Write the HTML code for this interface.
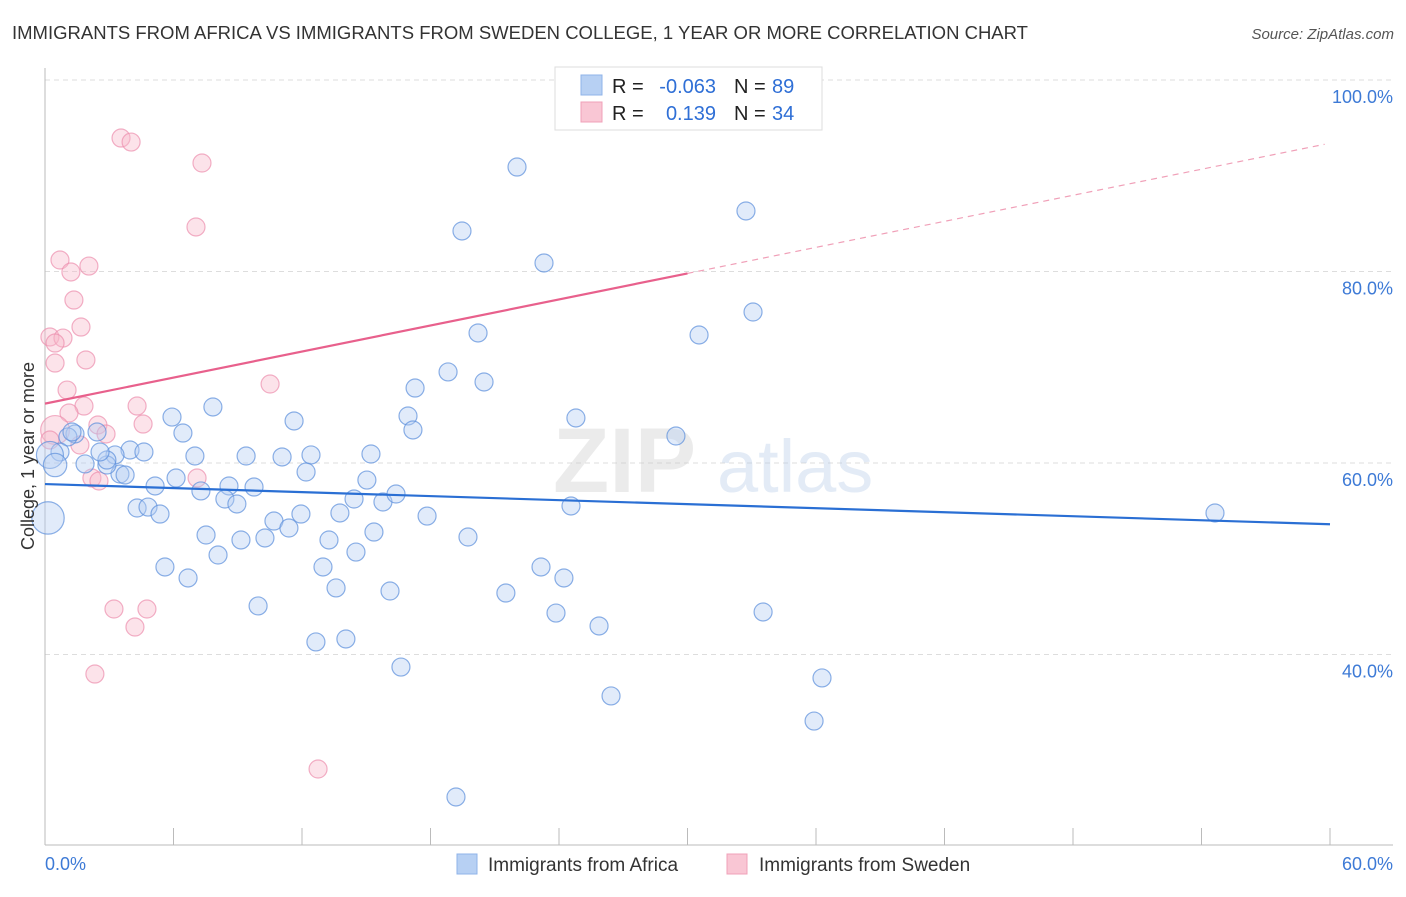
<!DOCTYPE html>
<html><head><meta charset="utf-8"><style>
body{margin:0;background:#fff;font-family:"Liberation Sans",sans-serif}
svg text{font-family:"Liberation Sans",sans-serif}
</style></head><body>
<svg width="1406" height="892" viewBox="0 0 1406 892" xmlns="http://www.w3.org/2000/svg">
<text x="12" y="39" font-size="18" fill="#333" textLength="1016" lengthAdjust="spacingAndGlyphs">IMMIGRANTS FROM AFRICA VS IMMIGRANTS FROM SWEDEN COLLEGE, 1 YEAR OR MORE CORRELATION CHART</text>
<text x="1394" y="39" font-size="15" fill="#555" text-anchor="end" font-style="italic">Source: ZipAtlas.com</text>
<g id="grid"></g>
<g opacity="0.35">
<text x="553" y="492" font-size="92" fill="#c8c8c8" font-family="Liberation Serif" font-weight="bold">ZIP</text>
<text x="717" y="492" font-size="74" fill="#b0c8e8">atlas</text>
</g>
<g id="marks"></g>
<g>
<rect x="555" y="67" width="267" height="63" fill="#fff" stroke="#ddd"/>
<rect x="581" y="75" width="21" height="20" fill="#b7d0f3" stroke="#8fb3e8"/>
<rect x="581" y="102" width="21" height="20" fill="#f9c6d4" stroke="#f0a0b8"/>
<text x="612" y="93" font-size="20" fill="#222">R =</text>
<text x="716" y="93" font-size="20" fill="#2f6fd6" text-anchor="end">-0.063</text>
<text x="734" y="93" font-size="20" fill="#222">N =</text>
<text x="772" y="93" font-size="20" fill="#2f6fd6">89</text>
<text x="612" y="120" font-size="20" fill="#222">R =</text>
<text x="716" y="120" font-size="20" fill="#2f6fd6" text-anchor="end">0.139</text>
<text x="734" y="120" font-size="20" fill="#222">N =</text>
<text x="772" y="120" font-size="20" fill="#2f6fd6">34</text>
</g>
<text transform="translate(34,456) rotate(-90)" font-size="18" fill="#333" text-anchor="middle">College, 1 year or more</text>
<text x="45" y="870" font-size="18" fill="#3d7ad6">0.0%</text>
<text x="1393" y="870" font-size="18" fill="#3d7ad6" text-anchor="end">60.0%</text>
<g>
<rect x="457" y="854" width="20" height="20" fill="#b7d0f3" stroke="#8fb3e8"/>
<text x="488" y="871" font-size="19" fill="#333">Immigrants from Africa</text>
<rect x="727" y="854" width="20" height="20" fill="#f9c6d4" stroke="#f0a0b8"/>
<text x="759" y="871" font-size="19" fill="#333">Immigrants from Sweden</text>
</g>
</svg>
<script>
const yTicks=[40,60,80,100];
const yTickLabels=["40.0%","60.0%","80.0%","100.0%"];
const xTicks=[0,6,12,18,24,30,36,42,48,54,60];
const africaX=[22.04,19.47,32.73,23.30,33.06,30.54,20.22,18.82,20.50,17.28,16.95,17.18,24.79,29.46,11.63,7.84,5.93,6.44,7.00,9.39,11.07,12.42,15.22,15.03,12.19,6.12,5.14,7.28,8.59,9.76,8.40,8.96,14.43,15.78,16.39,13.77,11.95,10.69,11.39,17.84,24.56,54.63,4.30,4.81,5.37,7.52,9.15,10.27,13.26,15.36,14.52,19.75,5.60,6.68,8.08,12.98,23.16,24.23,13.59,16.11,21.52,9.95,23.86,25.87,33.53,12.65,14.05,16.62,26.43,36.28,35.91,19.19,3.97,4.62,3.27,3.50,3.74,2.89,1.87,2.43,1.40,1.07,0.70,0.23,0.47,1.26,2.89,2.57,0.14];
const africaY=[90.91,84.23,86.32,80.89,75.77,73.37,73.58,69.51,68.46,67.83,64.91,63.45,64.70,62.82,64.39,65.85,64.80,63.13,60.73,60.73,60.63,60.84,60.94,58.22,59.06,58.43,57.60,57.08,57.60,57.49,56.24,55.72,56.24,55.93,56.76,54.78,54.67,53.94,53.21,54.46,55.51,54.78,55.30,55.40,54.67,52.48,51.96,52.17,51.96,52.79,50.70,52.27,49.14,47.99,50.39,49.14,49.14,47.99,46.95,46.63,46.42,45.07,44.33,42.98,44.44,41.31,41.62,38.69,35.67,37.55,33.05,25.12,61.36,61.15,60.84,58.85,58.75,59.79,59.90,63.24,63.03,62.72,61.15,60.84,59.79,63.24,60.31,61.15,54.26];
const africaSize=[1,1,1,1,1,1,1,1,1,1,1,1,1,1,1,1,1,1,1,1,1,1,1,1,1,1,1,1,1,1,1,1,1,1,1,1,1,1,1,1,1,1,1,1,1,1,1,1,1,1,1,1,1,1,1,1,1,1,1,1,1,1,1,1,1,1,1,1,1,1,1,1,1,1,1,1,1,1,1,1,1,1,1,1.5,1.3,1,1,1,1.8];
const swedenX=[3.55,4.02,7.33,7.05,0.70,2.05,1.21,1.35,1.68,0.23,0.84,0.47,1.91,0.47,1.03,10.51,1.82,4.30,1.12,2.47,4.58,2.85,1.63,7.10,2.19,2.52,3.22,4.76,4.20,2.33,12.75,0.47,0.23,25.68];
const swedenY=[93.94,93.52,91.33,84.65,81.20,80.57,79.95,77.02,74.20,73.16,73.05,72.53,70.76,70.44,67.62,68.25,65.95,65.95,65.22,63.97,64.07,63.03,61.88,58.43,58.43,58.12,44.75,44.75,42.87,37.96,28.04,63.45,62.40,100.0];
const swedenSize=[1,1,1,1,1,1,1,1,1,1,1,1,1,1,1,1,1,1,1,1,1,1,1,1,1,1,1,1,1,1,1,1.6,1,1];
const africaTrend=[57.8,53.6];
const swedenTrend=[66.2,93.4];
const trendX=[0,60];
const swedenSolidEnd=30;

const NS="http://www.w3.org/2000/svg";
const xs=v=>45+v/60*1285;
const ys=v=>463-(v-60)*9.575;
function mk(t,a,p){const e=document.createElementNS(NS,t);for(const k in a)e.setAttribute(k,a[k]);p.appendChild(e);return e;}
const grid=document.getElementById('grid'),marks=document.getElementById('marks');
yTicks.forEach((t,i)=>{
 const g=mk('line',{x1:45,x2:1393,y1:ys(t),y2:ys(t),stroke:'#ddd','stroke-dasharray':'5,4'},grid);
 
 
 const l=mk('text',{x:1393,y:ys(t)+23,'font-size':18,fill:'#3d7ad6','text-anchor':'end'},grid);
 l.textContent=yTickLabels[i];
 
 
});
const ax=mk('line',{x1:45,x2:45,y1:68,y2:845,stroke:'#bbb'},grid);


const bx=mk('line',{x1:45,x2:1393,y1:845,y2:845,stroke:'#bbb'},grid);


xTicks.forEach(t=>{
 const k=mk('line',{x1:xs(t),x2:xs(t),y1:828,y2:845,stroke:'#bbb'},grid);
 
 
});
function pts(X,Y,S,fill,stroke,name){
 X.forEach((x,i)=>{
  const c=mk('circle',{cx:xs(x),cy:ys(Y[i]),r:9*S[i],fill:fill,'fill-opacity':0.4,stroke:stroke,'stroke-opacity':0.7,'stroke-width':1.2},marks);
  
  
 });
}
pts(swedenX,swedenY,swedenSize,'#f7b8cb','#ec8fae','sweden-point');
pts(africaX,africaY,africaSize,'#b3cdf2','#5b8fdc','africa-point');
const sy=v=>swedenTrend[0]+(swedenTrend[1]-swedenTrend[0])*(v-trendX[0])/(trendX[1]-trendX[0]);
const p1=mk('line',{x1:xs(0),y1:ys(sy(0)),x2:xs(swedenSolidEnd),y2:ys(sy(swedenSolidEnd)),stroke:'#e8608c','stroke-width':2.2},marks);


const p2=mk('line',{x1:xs(swedenSolidEnd),y1:ys(sy(swedenSolidEnd)),x2:xs(59.75),y2:ys(sy(59.75)),stroke:'#f0a0b8','stroke-width':1.2,'stroke-dasharray':'6,5'},marks);


const b1=mk('line',{x1:xs(trendX[0]),y1:ys(africaTrend[0]),x2:xs(trendX[1]),y2:ys(africaTrend[1]),stroke:'#2a6fd4','stroke-width':2.2},marks);


</script>
</body></html>
